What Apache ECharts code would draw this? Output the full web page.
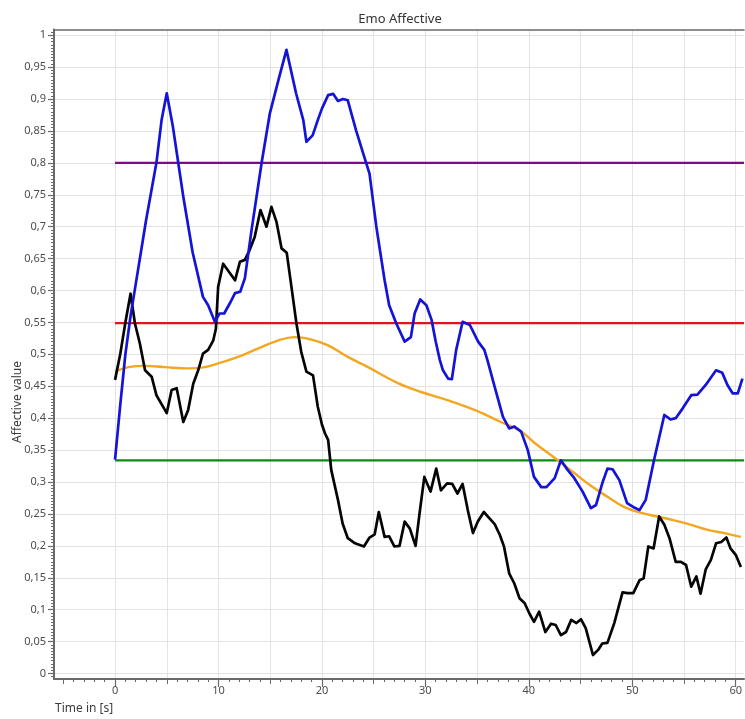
<!DOCTYPE html>
<html>
<head>
<meta charset="utf-8">
<script src="https://cdn.jsdelivr.net/npm/echarts@6/dist/echarts.min.js"></script>
<style>
  html, body { margin: 0; padding: 0; background: #ffffff; }
  #chart { width: 745px; height: 719px; }
</style>
</head>
<body>
<div id="chart"></div>
<script>
// Affective signals over time: [time in s, affective value]
const blueSeries = [
  [0, 0.335], [0.5, 0.42], [1, 0.5], [1.5, 0.56], [2, 0.61], [2.5, 0.66], [3, 0.71], [3.5, 0.755],
  [4, 0.8], [4.5, 0.867], [5, 0.909], [5.6, 0.856], [6.6, 0.747], [7.5, 0.66], [8.5, 0.59],
  [9.0, 0.577], [9.65, 0.551], [10.1, 0.564], [10.55, 0.564], [11.1, 0.58], [11.6, 0.596],
  [12.1, 0.598], [12.55, 0.619], [13.2, 0.695], [14.16, 0.799], [14.96, 0.877], [15.8, 0.93],
  [16.57, 0.977], [17.5, 0.909], [18.2, 0.867], [18.5, 0.833], [19.1, 0.843], [19.6, 0.867],
  [20.0, 0.885], [20.6, 0.906], [21.1, 0.908], [21.55, 0.897], [22.04, 0.9], [22.5, 0.898],
  [23.3, 0.851], [24.1, 0.809], [24.6, 0.783], [25.26, 0.70], [26.06, 0.616], [26.5, 0.577],
  [27.2, 0.548], [28.0, 0.52], [28.6, 0.527], [28.96, 0.564], [29.5, 0.586], [30.1, 0.577],
  [30.6, 0.554], [31.0, 0.52], [31.4, 0.491], [31.7, 0.475], [32.2, 0.462], [32.56, 0.461],
  [32.98, 0.507], [33.6, 0.551], [34.3, 0.546], [35.1, 0.52], [35.7, 0.507], [36.0, 0.491],
  [36.7, 0.449], [37.5, 0.402], [38.1, 0.384], [38.6, 0.387], [39.26, 0.379], [39.9, 0.35],
  [40.5, 0.308], [41.2, 0.292], [41.7, 0.292], [42.5, 0.306], [43.1, 0.334], [43.75, 0.319],
  [44.4, 0.306], [45.2, 0.285], [46.0, 0.259], [46.5, 0.264], [47.1, 0.298], [47.6, 0.321],
  [48.1, 0.32], [48.75, 0.303], [49.5, 0.267], [50.2, 0.26], [50.7, 0.256], [51.3, 0.272],
  [52.1, 0.334], [53.1, 0.405], [53.7, 0.398], [54.2, 0.4], [54.86, 0.415], [55.7, 0.436],
  [56.3, 0.437], [57.1, 0.452], [58.1, 0.475], [58.7, 0.471], [59.2, 0.452], [59.7, 0.439],
  [60.2, 0.439], [60.65, 0.462]
];

const blackSeries = [
  [0, 0.46], [0.5, 0.5], [1.0, 0.55], [1.5, 0.595], [1.93, 0.548], [2.4, 0.517], [2.9, 0.475],
  [3.54, 0.465], [4.0, 0.436], [5.0, 0.408], [5.47, 0.444], [5.96, 0.447], [6.6, 0.394],
  [7.07, 0.413], [7.56, 0.454], [8.04, 0.475], [8.5, 0.501], [9.0, 0.507], [9.5, 0.522],
  [9.75, 0.54], [9.97, 0.606], [10.45, 0.642], [11.6, 0.616], [12.07, 0.645], [12.55, 0.648],
  [13.0, 0.663], [13.5, 0.684], [14.06, 0.726], [14.64, 0.70], [15.12, 0.731], [15.6, 0.708],
  [16.1, 0.666], [16.6, 0.659], [17.05, 0.606], [17.54, 0.548], [18.0, 0.504], [18.5, 0.473],
  [19.14, 0.467], [19.6, 0.418], [20.0, 0.39], [20.3, 0.376], [20.6, 0.366], [20.9, 0.319],
  [21.55, 0.272], [22.0, 0.235], [22.5, 0.212], [23.2, 0.204], [24.06, 0.199], [24.6, 0.213],
  [25.1, 0.218], [25.5, 0.253], [26.06, 0.214], [26.5, 0.215], [27.0, 0.199], [27.5, 0.2],
  [28.0, 0.238], [28.5, 0.227], [29.05, 0.2], [29.44, 0.251], [29.9, 0.308], [30.5, 0.285],
  [31.05, 0.321], [31.5, 0.287], [32.1, 0.298], [32.6, 0.297], [33.1, 0.282], [33.6, 0.297],
  [34.1, 0.256], [34.6, 0.22], [35.07, 0.238], [35.65, 0.253], [36.2, 0.243], [36.7, 0.234],
  [37.2, 0.217], [37.6, 0.199], [38.1, 0.157], [38.6, 0.141], [39.1, 0.118], [39.6, 0.11],
  [40.06, 0.094], [40.5, 0.081], [41.0, 0.097], [41.6, 0.065], [42.15, 0.078], [42.6, 0.076],
  [43.1, 0.06], [43.6, 0.065], [44.1, 0.084], [44.6, 0.079], [45.05, 0.085], [45.5, 0.071],
  [46.2, 0.029], [46.7, 0.037], [47.1, 0.047], [47.6, 0.048], [48.26, 0.079], [49.06, 0.127],
  [49.55, 0.126], [50.1, 0.126], [50.7, 0.146], [51.1, 0.149], [51.55, 0.199], [52.06, 0.196],
  [52.6, 0.246], [53.1, 0.233], [53.6, 0.212], [54.2, 0.175], [54.7, 0.175], [55.2, 0.17],
  [55.7, 0.136], [56.2, 0.152], [56.6, 0.125], [57.1, 0.163], [57.6, 0.178], [58.1, 0.204],
  [58.6, 0.206], [59.1, 0.213], [59.5, 0.196], [60.0, 0.186], [60.5, 0.167]
];

const orangeSeries = [
  [0, 0.473], [1.3, 0.48], [2.9, 0.482], [4.8, 0.48], [7.1, 0.478], [8.7, 0.48], [10, 0.486],
  [11.9, 0.496], [13.8, 0.509], [15.8, 0.522], [17.4, 0.527], [19.0, 0.523], [20.6, 0.514],
  [22.5, 0.496], [24.45, 0.48], [27.35, 0.455], [29.6, 0.441], [32.2, 0.428], [34.75, 0.413],
  [37.3, 0.394], [39.26, 0.379], [40.5, 0.362], [42.8, 0.334], [44.4, 0.314], [46.0, 0.294],
  [47.6, 0.277], [49.2, 0.261], [50.8, 0.252], [52.4, 0.246], [54.05, 0.24], [55.7, 0.233],
  [57.3, 0.225], [58.9, 0.22], [60.5, 0.214]
];

// Constant reference levels, drawn across the time span
const levelPurple = 0.8;
const levelRed = 0.549;
const levelGreen = 0.334;
const levelSpan = [0, 60.8];

// Axis tick labels
const xLabelValues = [0, 10, 20, 30, 40, 50, 60];
const yLabelValues = [0, 0.05, 0.1, 0.15, 0.2, 0.25, 0.3, 0.35, 0.4, 0.45, 0.5,
                      0.55, 0.6, 0.65, 0.7, 0.75, 0.8, 0.85, 0.9, 0.95, 1];

const X_MIN = -5.9, X_MAX = 60.8;
const Y_MIN = -0.0086, Y_MAX = 1.0089;

// Tick positions
const xGridValues = [];
for (let v = 0; v <= 60; v += 5) xGridValues.push(v);
const xMidTicks = [];
for (let v = -5; v <= 55; v += 10) xMidTicks.push(v);
const xMinorTicks = [];
for (let v = -5; v <= 60; v++) if (v % 5 !== 0) xMinorTicks.push(v);
const yMinorTicks = [];
for (let i = -1; i <= 201; i++) if (i % 10 !== 0) yMinorTicks.push(Math.round(i * 5) / 1000);

const levelLine = (level) => levelSpan.map(t => [t, level]);

const FONT = '"Noto Sans", "Open Sans", sans-serif';
const AXIS_COLOR = '#6a6a6a';
const TEXT_COLOR = '#4d4d4d';
const GRID_COLOR = '#e3e3e3';

const hiddenX = (extra) => Object.assign({
  type: 'value', min: X_MIN, max: X_MAX, position: 'bottom',
  axisLine: { show: false, onZero: false }, axisLabel: { show: false }, splitLine: { show: false }
}, extra);

const hiddenY = (extra) => Object.assign({
  type: 'value', min: Y_MIN, max: Y_MAX, position: 'left',
  axisLine: { show: false, onZero: false }, axisLabel: { show: false }, splitLine: { show: false }
}, extra);

const chart = echarts.init(document.getElementById('chart'), null, { renderer: 'canvas' });

chart.setOption({
  animation: false,
  backgroundColor: '#ffffff',
  title: {
    text: 'Emo Affective',
    left: 395, top: 8, textAlign: 'center',
    textStyle: { fontFamily: FONT, fontSize: 13, fontWeight: 'normal', color: '#333333' }
  },
  graphic: [
    {
      type: 'text', x: 18, y: 402, rotation: Math.PI / 2,
      style: { text: 'Affective value', fontFamily: FONT, fontSize: 12, fill: '#3c3c3c',
               align: 'center', verticalAlign: 'middle' }
    },
    {
      type: 'text', x: 55, y: 709,
      style: { text: 'Time in [s]', fontFamily: FONT, fontSize: 12, fill: '#3c3c3c',
               align: 'left', verticalAlign: 'middle' }
    }
  ],
  grid: { left: 54, right: 0, top: 29.5, bottom: 40, containLabel: false },
  xAxis: [
    {
      type: 'value', min: X_MIN, max: X_MAX, position: 'bottom',
      axisLine: { show: true, onZero: false, lineStyle: { color: AXIS_COLOR, width: 2 } },
      axisTick: { show: true, customValues: xLabelValues, length: 8, lineStyle: { color: AXIS_COLOR, width: 1.2 } },
      axisLabel: { show: true, customValues: xLabelValues, margin: 6, color: TEXT_COLOR,
                   fontFamily: FONT, fontSize: 11 },
      splitLine: { show: false }
    },
    hiddenX({ axisTick: { show: true, customValues: xMidTicks, length: 5, lineStyle: { color: AXIS_COLOR, width: 1 } } }),
    hiddenX({ axisTick: { show: true, customValues: xMinorTicks, length: 3, lineStyle: { color: AXIS_COLOR, width: 1 } } }),
    hiddenX({ axisTick: { show: false, customValues: xGridValues },
              splitLine: { show: true, lineStyle: { color: GRID_COLOR, width: 1 } } }),
    hiddenX({ position: 'top', axisLine: { show: true, onZero: false, lineStyle: { color: AXIS_COLOR, width: 1.5 } },
              axisTick: { show: false } })
  ],
  yAxis: [
    {
      type: 'value', min: Y_MIN, max: Y_MAX, position: 'left',
      axisLine: { show: true, onZero: false, lineStyle: { color: AXIS_COLOR, width: 2 } },
      axisTick: { show: true, customValues: yLabelValues, length: 6, lineStyle: { color: AXIS_COLOR, width: 1.2 } },
      axisLabel: {
        show: true, customValues: yLabelValues, margin: 8, color: TEXT_COLOR,
        fontFamily: FONT, fontSize: 11,
        formatter: (v) => String(+(+v).toFixed(3)).replace('.', ',')
      },
      splitLine: { show: true, lineStyle: { color: GRID_COLOR, width: 1 } }
    },
    hiddenY({ axisTick: { show: true, customValues: yMinorTicks, length: 3, lineStyle: { color: AXIS_COLOR, width: 1 } } })
  ],
  series: [
    {
      name: 'Level high', type: 'line', data: levelLine(levelPurple), symbol: 'none',
      lineStyle: { color: '#7d0a85', width: 2.2 }, silent: true, z: 2
    },
    {
      name: 'Level mid', type: 'line', data: levelLine(levelRed), symbol: 'none',
      lineStyle: { color: '#e5121c', width: 2.2 }, silent: true, z: 2
    },
    {
      name: 'Level low', type: 'line', data: levelLine(levelGreen), symbol: 'none',
      lineStyle: { color: '#0e8a12', width: 2.2 }, silent: true, z: 2
    },
    {
      name: 'Trend', type: 'line', data: orangeSeries, symbol: 'none', smooth: 0.4,
      lineStyle: { color: '#f3a620', width: 2.4 }, z: 3
    },
    {
      name: 'Signal A', type: 'line', data: blackSeries, symbol: 'none',
      lineStyle: { color: '#050505', width: 2.7, join: 'round' }, z: 4
    },
    {
      name: 'Signal B', type: 'line', data: blueSeries, symbol: 'none',
      lineStyle: { color: '#1414d8', width: 2.7, join: 'round' }, z: 5
    }
  ]
});
</script>
</body>
</html>
